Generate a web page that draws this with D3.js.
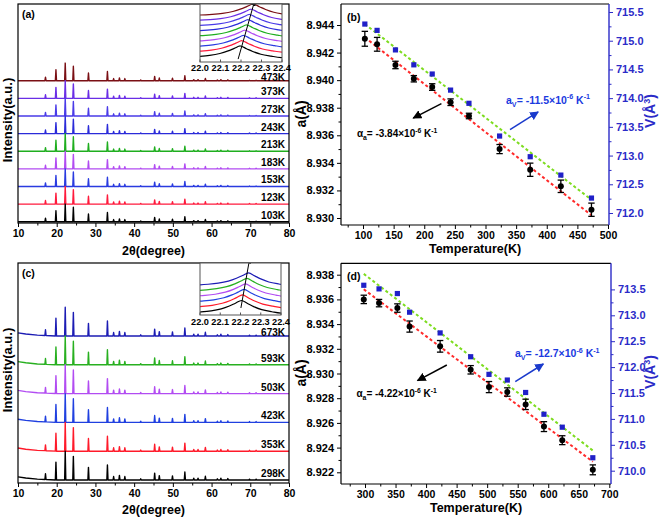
<!DOCTYPE html>
<html><head><meta charset="utf-8">
<script src="https://cdn.jsdelivr.net/npm/d3@7"></script>
<style>
body{margin:0;background:#fff}
svg{display:block}
text{font-family:Arial,"Liberation Sans",Helvetica,sans-serif;font-weight:bold}
</style>
</head><body>
<svg id="chart" width="661" height="522"></svg>
<script>
// ================= DATA =================
// XRD peak list (2theta, relative intensity; strongest = 1 spacing unit)
const xrdPeakPos = [17.1,19.8,22.2,24.3,28.2,33.1,34.7,36.2,37.6,41.7,45.3,46.5,49.9,53.1,55.4,56.5,58.4,61.5,62.4,64.2,69.8,71.5];
const xrdPeakInt = [0.20,0.62,1.00,0.82,0.44,0.52,0.12,0.16,0.12,0.04,0.24,0.15,0.14,0.28,0.06,0.06,0.13,0.04,0.06,0.05,0.03,0.03];

// panel (a)
const tempsA  = ["103K","123K","153K","183K","213K","243K","273K","373K","473K"];
const colorsA = ["#000000","#ff1a3c","#2a3be0","#b24cf2","#1fae1f","#2b2bd9","#4a3be8","#6a2ee6","#7a0f14"];
const insetPeakA = [22.197,22.205,22.213,22.220,22.228,22.235,22.242,22.250,22.260];
// panel (c)
const tempsC  = ["298K","353K","423K","503K","593K","673K"];
const colorsC = ["#000000","#ff1a2a","#2040e0","#b24cf2","#28b020","#1c1cb4"];
const insetPeakC = [22.205,22.210,22.218,22.225,22.232,22.240];
const bgCx = [10,12,15,20,80];
const bgCy = [0.11,0.07,0.03,0,0];

// inset peak profile (offset from peak centre, relative height)
const insetShapeDx = [-0.45,-0.26,-0.20,-0.15,-0.10,-0.06,-0.03,0,0.03,0.06,0.10,0.15,0.20,0.45];
const insetShapeY  = [0,0,0.06,0.15,0.32,0.55,0.78,1,0.75,0.50,0.25,0.08,-0.05,-0.15];
const insetTicks = [22.0,22.1,22.2,22.3,22.4];

// panel (b)
const tempB   = [103,123,153,183,213,243,273,323,373,423,473];
const latB    = [8.9430,8.9426,8.9411,8.9401,8.9395,8.9384,8.9374,8.9350,8.9335,8.9323,8.9306];
const latErrB = [0.00054,0.00050,0.00027,0.00023,0.00024,0.00024,0.00020,0.00033,0.00048,0.00045,0.00048];
const volB    = [715.29,715.18,714.84,714.58,714.42,714.14,713.91,713.34,712.98,712.66,712.26];
const fitTB   = [103,473];
const fitLatB = [8.9431,8.9302];
const fitVolB = [715.29,712.23];

// panel (d)
const tempD   = [298,323,353,373,423,473,503,533,563,593,623,673];
const latD    = [8.9360,8.9357,8.9353,8.9338,8.9322,8.9303,8.9289,8.9285,8.9275,8.9257,8.9246,8.9222];
const latErrD = [0.00034,0.00030,0.00034,0.00045,0.00047,0.00034,0.00045,0.00034,0.00042,0.00040,0.00036,0.00040];
const volD    = [713.58,713.51,713.42,713.06,712.66,712.20,711.86,711.75,711.51,711.09,710.84,710.25];
const fitTD   = [298,673];
const fitLatD = [8.93682,8.92286];
const fitVolD = [713.80,710.39];

// tick values
const xTicksXRD = [10,20,30,40,50,60,70,80];
const xMinorXRD = [15,25,35,45,55,65,75];
const xTicksB = [100,150,200,250,300,350,400,450,500];
const yTicksBa = [8.930,8.932,8.934,8.936,8.938,8.940,8.942,8.944];
const yTicksBv = [712.0,712.5,713.0,713.5,714.0,714.5,715.0,715.5];
const xTicksD = [300,350,400,450,500,550,600,650,700];
const yTicksDa = [8.922,8.924,8.926,8.928,8.930,8.932,8.934,8.936,8.938];
const yTicksDv = [710.0,710.5,711.0,711.5,712.0,712.5,713.0,713.5];

// ================= DRAWING =================
const svg = d3.select("#chart");
const defs = svg.append("defs");
function arrowMarker(id,color,size){
  defs.append("marker").attr("id",id).attr("viewBox","0 0 10 10")
    .attr("refX",9).attr("refY",5).attr("markerWidth",size).attr("markerHeight",size)
    .attr("markerUnits","userSpaceOnUse").attr("orient","auto")
    .append("path").attr("d","M0,0L10,5L0,10z").attr("fill",color);
}
arrowMarker("arB","#000",9);
arrowMarker("arU","#1a3acc",9);
arrowMarker("arS","#000",5);

const BLUE_AX = "#2b2bc8";

function richText(g,x,y,parts,size,color){
  const t = g.append("text").attr("x",x).attr("y",y).attr("font-size",size).attr("fill",color);
  let shift = 0;
  parts.forEach(p=>{
    const target = p.sup ? -0.42*size : (p.sub ? 0.28*size : 0);
    t.append("tspan").attr("dy", target-shift).attr("font-size", (p.sup||p.sub)? size*0.68 : size).text(p.t);
    shift = target;
  });
  return t;
}

function ticksGroup(g, axisFn, scale, vals, size, fmt, fs, color){
  const a = axisFn(scale).tickValues(vals).tickSizeInner(size).tickSizeOuter(0).tickPadding(3);
  if (fmt) a.tickFormat(fmt); else a.tickFormat("");
  const sel = g.call(a);
  sel.select(".domain").remove();
  sel.selectAll("line").attr("stroke",color).attr("stroke-width",1);
  sel.selectAll("text").attr("font-size",fs).attr("fill",color)
     .attr("font-family",'Arial,"Liberation Sans",sans-serif').attr("font-weight","bold");
  return sel;
}

function drawXRD(cfg){
  const {x,y,top,bottom,temps,colors,bgFn,bgX,label,insetCfg,labelY,titleY} = cfg;
  const g = svg.append("g");
  const left = x.range()[0], right = x.range()[1];
  for (let i=temps.length-1;i>=0;i--){
    let pts = [];
    bgX.forEach(v=>pts.push([v,0]));
    xrdPeakPos.forEach((p,k)=>{
      pts.push([p-0.15,0],[p,xrdPeakInt[k]],[p+0.15,0]);
    });
    pts.sort((a,b)=>a[0]-b[0]);
    pts = pts.map(d=>[d[0], d[1]+bgFn(d[0])+i]);
    g.append("path").attr("d", d3.line().x(d=>x(d[0])).y(d=>y(d[1]))(pts))
      .attr("fill","none").attr("stroke",colors[i]).attr("stroke-width",1.4).attr("stroke-linejoin","round");
  }
  temps.forEach((t,i)=>{
    const off = (i===temps.length-1) ? 0 : -3;
    g.append("text").attr("x",right-4).attr("y",y(i)+off).attr("text-anchor","end")
      .attr("font-size",10).attr("fill","#000").text(t);
  });
  g.append("rect").attr("x",left).attr("y",top).attr("width",right-left).attr("height",bottom-top)
    .attr("fill","none").attr("stroke","#000").attr("stroke-width",1.2);
  ticksGroup(g.append("g").attr("transform",`translate(0,${bottom})`), d3.axisBottom, x, xTicksXRD, 4, d3.format("d"), 10.5, "#000");
  ticksGroup(g.append("g").attr("transform",`translate(0,${bottom})`), d3.axisBottom, x, xMinorXRD, 2.5, null, 10, "#000");
  g.append("text").attr("x",(left+right)/2).attr("y",titleY).attr("text-anchor","middle")
    .attr("font-size",12.5).text("2θ(degree)");
  g.append("text").attr("transform",`translate(12,${labelY}) rotate(-90)`).attr("text-anchor","middle")
    .attr("font-size",13).text("Intensity(a.u.)");
  g.append("text").attr("x",left+4).attr("y",top+14).attr("font-size",10.5).text(label);
  drawInset(g, insetCfg, colors);
}

function drawInset(g, c, colors){
  const xs = d3.scaleLinear().domain([22.0,22.4]).range([c.x0,c.x1]);
  const ys = d3.scaleLinear().domain([0,c.n-1]).range([c.yBase0,c.yBaseN]);
  g.append("rect").attr("x",c.x0).attr("y",c.y0).attr("width",c.x1-c.x0).attr("height",c.y1-c.y0)
    .attr("fill","#fff");
  const cid = "clip"+c.id;
  defs.append("clipPath").attr("id",cid).append("rect")
    .attr("x",c.x0).attr("y",c.y0).attr("width",c.x1-c.x0).attr("height",c.y1-c.y0);
  const cg = g.append("g").attr("clip-path",`url(#${cid})`);
  c.peaks.forEach((pk,i)=>{
    const pts = insetShapeDx.map((dx,k)=>[pk+dx, i + c.h*insetShapeY[k]]);
    cg.append("path").attr("d", d3.line().curve(d3.curveCatmullRom.alpha(0.5)).x(d=>xs(d[0])).y(d=>ys(d[1]))(pts))
      .attr("fill","none").attr("stroke",colors[i]).attr("stroke-width",1.2);
  });
  cg.append("line").attr("x1",xs(c.arrow[0][0])).attr("y1",ys(c.arrow[0][1]))
    .attr("x2",xs(c.arrow[1][0])).attr("y2",ys(c.arrow[1][1]))
    .attr("stroke","#000").attr("stroke-width",1).attr("marker-end","url(#arS)");
  g.append("rect").attr("x",c.x0).attr("y",c.y0).attr("width",c.x1-c.x0).attr("height",c.y1-c.y0)
    .attr("fill","none").attr("stroke","#555").attr("stroke-width",1);
  insetTicks.forEach(v=>{
    g.append("line").attr("x1",xs(v)).attr("x2",xs(v)).attr("y1",c.y1).attr("y2",c.y1-2.5).attr("stroke","#555");
    g.append("text").attr("x",xs(v)).attr("y",c.y1+c.lab).attr("text-anchor","middle")
      .attr("font-size",9.2).text(d3.format(".1f")(v));
  });
}

// ---------- panel (a)
drawXRD({
  x: d3.scaleLinear().domain([10,80]).range([18,289]),
  y: d3.scaleLinear().domain([0,8]).range([221.7,80.7]),
  top:4, bottom:223, temps:tempsA, colors:colorsA,
  bgFn: ()=>0, bgX:[10,80], label:"(a)", labelY:120, titleY:255,
  insetCfg:{id:"a", x0:200, x1:282, y0:4, y1:62, n:9, yBase0:57, yBaseN:15, h:2.1, lab:8.5,
            peaks:insetPeakA, arrow:[[22.186,-0.4],[22.266,10.6]]}
});
// ---------- panel (c)
const bgC = d3.scaleLinear().domain(bgCx).range(bgCy).clamp(true);
drawXRD({
  x: d3.scaleLinear().domain([10,80]).range([18,289]),
  y: d3.scaleLinear().domain([0,5]).range([480,336]),
  top:263, bottom:483, temps:tempsC, colors:colorsC,
  bgFn: v=>bgC(v), bgX:bgCx, label:"(c)", labelY:370, titleY:514,
  insetCfg:{id:"c", x0:200, x1:281, y0:263, y1:315, n:6, yBase0:312.7, yBaseN:285, h:2.2, lab:10,
            peaks:insetPeakC, arrow:[[22.202,0.85],[22.245,9.7]]}
});

function drawLattice(cfg){
  const {x,ya,yv,left,right,top,bottom,T,lat,err,vol,fitT,fitLat,fitVol,xTicks,yaTicks,yvTicks,label,
         blackArrow,blueArrow,blackTxt,blueTxt,aTitleY,vTitleY} = cfg;
  const g = svg.append("g");
  const ln = d3.line();
  g.append("path").attr("d", ln(fitT.map((t,i)=>[x(t),yv(fitVol[i])])))
    .attr("stroke","#7ddc1f").attr("stroke-width",2).attr("stroke-dasharray","3,2.5").attr("fill","none");
  g.append("path").attr("d", ln(fitT.map((t,i)=>[x(t),ya(fitLat[i])])))
    .attr("stroke","#ff2a2a").attr("stroke-width",2).attr("stroke-dasharray","3,2.5").attr("fill","none");
  g.selectAll(".sq").data(T).enter().append("rect")
    .attr("x",(d)=>x(d)-2.6).attr("y",(d,i)=>yv(vol[i])-2.6).attr("width",5.2).attr("height",5.2)
    .attr("fill","#2020c8");
  T.forEach((t,i)=>{
    const cx = x(t), y1 = ya(lat[i]-err[i]), y2 = ya(lat[i]+err[i]);
    g.append("line").attr("x1",cx).attr("x2",cx).attr("y1",y1).attr("y2",y2).attr("stroke","#000").attr("stroke-width",1.3);
    [y1,y2].forEach(yy=>g.append("line").attr("x1",cx-3.2).attr("x2",cx+3.2).attr("y1",yy).attr("y2",yy)
      .attr("stroke","#000").attr("stroke-width",1.3));
    g.append("circle").attr("cx",cx).attr("cy",ya(lat[i])).attr("r",3).attr("fill","#000");
  });
  g.append("line").attr("x1",left).attr("x2",right).attr("y1",top).attr("y2",top).attr("stroke","#000").attr("stroke-width",1.2);
  g.append("line").attr("x1",left).attr("x2",right).attr("y1",bottom).attr("y2",bottom).attr("stroke","#000").attr("stroke-width",1.2);
  g.append("line").attr("x1",left).attr("x2",left).attr("y1",top).attr("y2",bottom).attr("stroke","#000").attr("stroke-width",1.2);
  g.append("line").attr("x1",right).attr("x2",right).attr("y1",top).attr("y2",bottom).attr("stroke",BLUE_AX).attr("stroke-width",1.4);
  const xMinor = xTicks.slice(0,-1).map(v=>v+25).concat([xTicks[0]-25]);
  ticksGroup(g.append("g").attr("transform",`translate(0,${bottom})`), d3.axisBottom, x, xTicks, 4, d3.format("d"), 10.5, "#000");
  ticksGroup(g.append("g").attr("transform",`translate(0,${bottom})`), d3.axisBottom, x, xMinor, 2.5, null, 10, "#000");
  ticksGroup(g.append("g").attr("transform",`translate(${left},0)`), d3.axisLeft, ya, yaTicks, 4, d3.format(".3f"), 11, "#000");
  ticksGroup(g.append("g").attr("transform",`translate(${left},0)`), d3.axisLeft, ya, yaTicks.slice(0,-1).map(v=>v+0.001), 2.5, null, 10, "#000");
  ticksGroup(g.append("g").attr("transform",`translate(${right},0)`), d3.axisRight, yv, yvTicks, 4, d3.format(".1f"), 11, BLUE_AX);
  ticksGroup(g.append("g").attr("transform",`translate(${right},0)`), d3.axisRight, yv, yvTicks.slice(0,-1).map(v=>v+0.25), 2.5, null, 10, BLUE_AX);
  g.append("text").attr("x",(left+right)/2).attr("y",bottom+28).attr("text-anchor","middle").attr("font-size",12.5).text("Temperature(K)");
  g.append("text").attr("transform",`translate(${left-35},${aTitleY}) rotate(-90)`).attr("text-anchor","middle").attr("font-size",14).text("a(Å)");
  const vt = g.append("text").attr("transform",`translate(655,${vTitleY}) rotate(-90)`).attr("text-anchor","middle")
    .attr("font-size",14).attr("fill",BLUE_AX);
  vt.append("tspan").text("V(Å");
  vt.append("tspan").attr("dy",-5).attr("font-size",9).text("3");
  vt.append("tspan").attr("dy",5).text(")");
  g.append("text").attr("x",left+6).attr("y",top+17).attr("font-size",10.5).text(label);
  g.append("line").attr("x1",x(blackArrow[0][0])).attr("y1",ya(blackArrow[0][1]))
    .attr("x2",x(blackArrow[1][0])).attr("y2",ya(blackArrow[1][1]))
    .attr("stroke","#000").attr("stroke-width",1.5).attr("marker-end","url(#arB)");
  g.append("line").attr("x1",x(blueArrow[0][0])).attr("y1",yv(blueArrow[0][1]))
    .attr("x2",x(blueArrow[1][0])).attr("y2",yv(blueArrow[1][1]))
    .attr("stroke","#1a3acc").attr("stroke-width",1.5).attr("marker-end","url(#arU)");
  richText(g, x(blackTxt.pos[0]), ya(blackTxt.pos[1]),
    [{t:"α"},{t:"a",sub:true},{t:"= "+blackTxt.val+"×10"},{t:"-6",sup:true},{t:" K"},{t:"-1",sup:true}], 10, "#000");
  richText(g, x(blueTxt.pos[0]), yv(blueTxt.pos[1]),
    [{t:"a"},{t:"V",sub:true},{t:"= "+blueTxt.val+"×10"},{t:"-6",sup:true},{t:" K"},{t:"-1",sup:true}], 10.5, "#1a3adf");
}

// ---------- panel (b)
drawLattice({
  x: d3.scaleLinear().domain([100,500]).range([363,608]),
  ya: d3.scaleLinear().domain([8.930,8.944]).range([218,25]),
  yv: d3.scaleLinear().domain([712.0,715.5]).range([213,12]),
  left:341, right:609, top:4, bottom:225,
  T:tempB, lat:latB, err:latErrB, vol:volB, fitT:fitTB, fitLat:fitLatB, fitVol:fitVolB,
  xTicks:xTicksB, yaTicks:yTicksBa, yvTicks:yTicksBv, label:"(b)",
  blackArrow:[[228,8.9383],[182,8.93725]], blueArrow:[[340,713.45],[386,713.76]],
  blackTxt:{pos:[90,8.93587], val:"-3.84"}, blueTxt:{pos:[333.5,713.90], val:"-11.5"},
  aTitleY:114, vTitleY:111
});
// ---------- panel (d)
drawLattice({
  x: d3.scaleLinear().domain([300,700]).range([365,609.3]),
  ya: d3.scaleLinear().domain([8.922,8.938]).range([472.3,274.7]),
  yv: d3.scaleLinear().domain([710.0,713.5]).range([470.7,289.4]),
  left:341, right:611, top:263.3, bottom:484,
  T:tempD, lat:latD, err:latErrD, vol:volD, fitT:fitTD, fitLat:fitLatD, fitVol:fitVolD,
  xTicks:xTicksD, yaTicks:yTicksDa, yvTicks:yTicksDv, label:"(d)",
  blackArrow:[[434,8.93069],[386,8.92942]], blueArrow:[[546,711.72],[592,712.06]],
  blackTxt:{pos:[286,8.9281], val:"-4.22"}, blueTxt:{pos:[545.6,712.19], val:"-12.7"},
  aTitleY:373, vTitleY:372
});
</script>
</body></html>
